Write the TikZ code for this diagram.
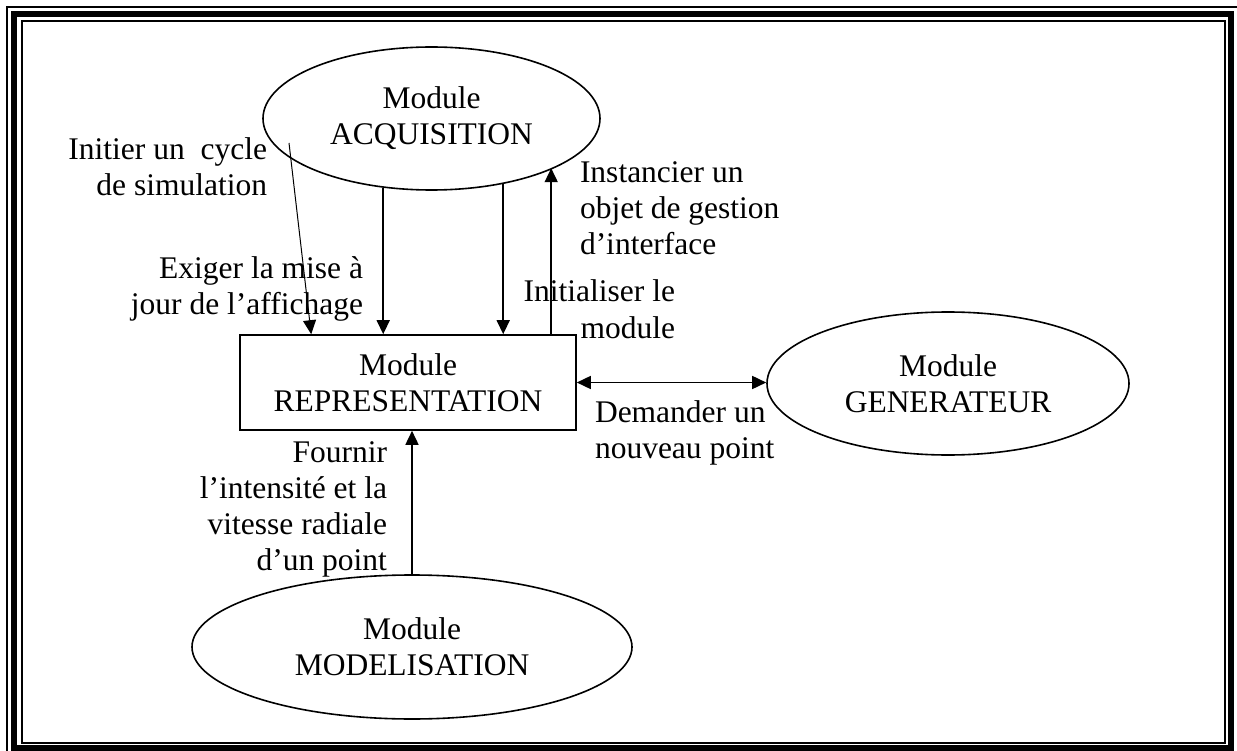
\documentclass[tikz,border=0pt]{standalone}
\usepackage{fontspec}
\setmainfont{Liberation Serif}
\usetikzlibrary{positioning}
\usetikzlibrary{arrows.meta}
\usetikzlibrary{shapes}
\tikzset{
	module/.style={draw,ellipse,line width=1.6pt,inner sep=0pt,align=center},
	bloc/.style={draw,rectangle,line width=1.6pt,inner sep=0pt,align=center},
	lbl/.style={inner sep=0pt,outer sep=0pt},
	tip/.tip={Triangle[length=14pt,width=13pt]},
	fl/.style={line width=1.6pt,-tip},
}

\begin{document}
\begin{tikzpicture}[x=1pt,y=-1pt,line width=1.6pt,font=\fontsize{31.5}{36}\selectfont]
			\useasboundingbox (0,0) rectangle (1237,751);
			
			%frame.....................
			\draw [line width=1.5pt] (7,7) rectangle (1237.5,751.5);
			\draw [line width=6pt] (14,14) rectangle (1230.5,748);
			\draw [line width=2pt] (21.5,21.5) rectangle (1225,743);
			
			%modules......................
			\node [module,minimum width=337pt,minimum height=143pt] (acq) at (431.5,118.5) {Module\\ACQUISITION};
			\node [bloc,minimum width=336pt,minimum height=95pt] (rep) at (408,382.5) {Module\\REPRESENTATION};
			\node [module,minimum width=362pt,minimum height=143pt] (gen) at (948,383.5) {Module\\GENERATEUR};
			\node [module,minimum width=440pt,minimum height=144pt] (mod) at (412,647) {Module\\MODELISATION};
			
			% points on the representation box...................
			\coordinate (cyc) at (289,143);
			\coordinate (r0) at ([xshift=72pt]rep.north west);
			\coordinate (r1) at ([xshift=144pt]rep.north west);
			\coordinate (r2) at ([xshift=264pt]rep.north west);
			\coordinate (r3) at ([xshift=312pt]rep.north west);
			
			% arrows...................
			\draw [fl,line width=1pt] (cyc) -- (r0);
			\draw [fl] (r1 |- acq.-125) -- (r1);
			\draw [fl] (r2 |- acq.-42) -- (r2);
			\draw [fl] (r3) -- (r3 |- acq.-22.5);
			\draw [line width=1.6pt,tip-tip] (rep.east) -- (rep.east -| gen.west);
			\draw [fl] (mod.north) -- (mod.north |- rep.south);
			
			% labels (anchored on the baseline of the last line)...................
			\node [lbl,align=right,anchor=base east] (l1) at (267,196) {Initier un~ cycle\\de simulation};
			\node [lbl,align=right,anchor=base east] (l2) at (363,315) {Exiger la mise à\\jour de l’affichage};
			\node [lbl,align=left,anchor=base west] (l3) at (580,255) {Instancier un\\objet de gestion\\d’interface};
			\node [lbl,align=right,anchor=base east] (l4) at (675,338) {Initialiser le\\module};
			\node [lbl,align=left,anchor=base west] (l5) at (595,458) {Demander un\\nouveau point};
			\node [lbl,align=right,anchor=base east] (l6) at (387,570) {Fournir\\l’intensité et la\\vitesse radiale\\d’un point};
			
		\end{tikzpicture}
\end{document}
